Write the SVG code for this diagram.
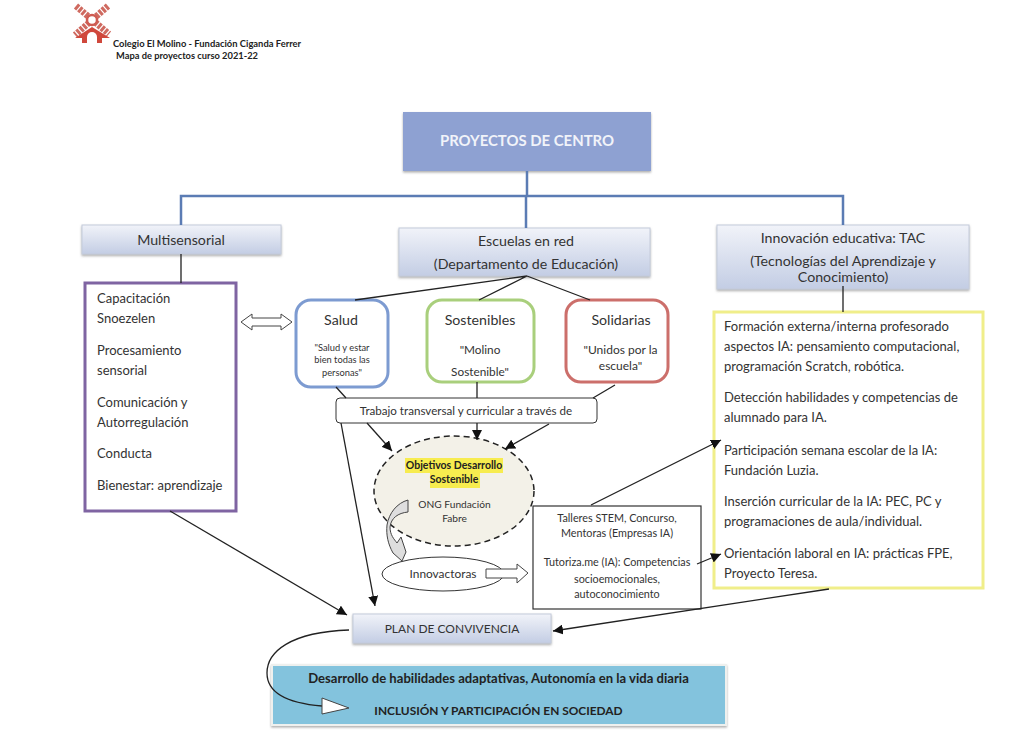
<svg xmlns="http://www.w3.org/2000/svg" width="1036" height="738" viewBox="0 0 1036 738">
<style>
text{font-family:"Lato","Liberation Sans",sans-serif;fill:#333;text-anchor:middle}
.l{text-anchor:start}
.t14{font-size:14.2px}.t13{font-size:13px}.t11{font-size:10.8px}
.b{font-weight:700;fill:#222}
.hdr{fill:url(#g);stroke:#c4cbdb;stroke-width:1;filter:url(#s)}
.blue{fill:none;stroke:#5b7cb4;stroke-width:2.5}
.c{fill:none;stroke:#222;stroke-width:1.3}
.a{marker-end:url(#ah)}
.bl{fill:#fff;stroke:#444;stroke-width:1}
</style>
<defs>
<linearGradient id="g" x1="0" y1="0" x2="0" y2="1"><stop offset="0" stop-color="#f1f3f9"/><stop offset="1" stop-color="#c3cde4"/></linearGradient>
<filter id="s" x="-5%" y="-10%" width="110%" height="130%"><feDropShadow dx="0" dy="1.5" stdDeviation="1" flood-color="#777" flood-opacity=".6"/></filter>
<marker id="ah" markerUnits="userSpaceOnUse" markerWidth="11" markerHeight="10" refX="10" refY="5" orient="auto"><path d="M0 0L10 5L0 10Z" fill="#111"/></marker>
</defs>
<rect width="1036" height="738" fill="#fff"/>

<g id="logo">
<path d="M76 6L109 34M108 6L75 35" stroke="#cf6a60" stroke-width="6.5" stroke-dasharray="3 1.2" fill="none"/>
<circle cx="92" cy="20" r="5" fill="#fff" stroke="#cf5c52" stroke-width="2.5"/>
<path d="M92 27L75 38L82 38V43H102V38L110 38Z" fill="#d0483c"/>
<path d="M87 43V37A5 5 0 0 1 97 37V43Z" fill="#fff"/>
<text class="l b" x="113" y="47" font-size="9.4">Colegio El Molino - Fundación Ciganda Ferrer</text>
<text class="l b" x="116" y="59" font-size="9.3">Mapa de proyectos curso 2021-22</text>
</g>

<g id="proyectos"><rect x="403" y="112" width="248" height="59" fill="#8ea1d2" filter="url(#s)"/><text x="527" y="146" font-size="14.9" font-weight="700" style="fill:#f1f3f9">PROYECTOS DE CENTRO</text></g>
<g id="multisensorial"><rect class="hdr" x="82" y="225" width="199" height="29"/><text class="t14" x="181" y="245">Multisensorial</text></g>
<g id="escuelas"><rect class="hdr" x="399" y="228" width="251" height="48"/><text class="t14" x="526" y="246">Escuelas en red</text><text class="t14" x="526" y="269">(Departamento de Educación)</text></g>
<g id="innovacion"><rect class="hdr" x="717" y="225" width="252" height="64"/><text class="t14" x="843" y="243">Innovación educativa: TAC</text><text class="t14" x="843" y="266">(Tecnologías del Aprendizaje y</text><text class="t14" x="843" y="282">Conocimiento)</text></g>

<g id="multi-list"><rect x="85" y="283" width="151" height="228" fill="#fff" stroke="#7f64a2" stroke-width="3"/>
<g class="t13"><text class="l" x="97" y="303">Capacitación</text><text class="l" x="97" y="323">Snoezelen</text><text class="l" x="97" y="355">Procesamiento</text><text class="l" x="97" y="375">sensorial</text><text class="l" x="97" y="407">Comunicación y</text><text class="l" x="97" y="427">Autorregulación</text><text class="l" x="97" y="458">Conducta</text><text class="l" x="97" y="490">Bienestar: aprendizaje</text></g></g>

<g id="double-arrow"><path class="bl" d="M241 322L252 314V318H281V314L292 322L281 330V326H252V330Z"/></g>

<g id="salud"><rect x="296" y="300" width="92" height="87" rx="15" fill="#fff" stroke="#7d9bd1" stroke-width="3"/><text class="t14" x="341" y="325">Salud</text><g font-size="9.3"><text x="342" y="351">"Salud y estar</text><text x="342" y="363">bien todas las</text><text x="342" y="376">personas"</text></g></g>
<g id="sostenibles"><rect x="427" y="300" width="107" height="82" rx="15" fill="#fff" stroke="#a9cf7c" stroke-width="3"/><text class="t14" x="480" y="325">Sostenibles</text><text font-size="11.8" x="480" y="354">"Molino</text><text font-size="11.8" x="480" y="376">Sostenible"</text></g>
<g id="solidarias"><rect x="566" y="300" width="102" height="82" rx="15" fill="#fff" stroke="#cc6f6b" stroke-width="3"/><text class="t14" x="621" y="325">Solidarias</text><text font-size="12" x="620.5" y="354">"Unidos por la</text><text font-size="12" x="620.5" y="370">escuela"</text></g>
<g id="trabajo"><rect x="336" y="398" width="261" height="25" rx="4" fill="#fff" stroke="#333" stroke-width="1"/><text font-size="11.6" x="466" y="415">Trabajo transversal y curricular a través de</text></g>

<g id="ods"><ellipse cx="454" cy="491" rx="80" ry="55" fill="#f3f1e8" stroke="#222" stroke-width="1.5" stroke-dasharray="6 4"/>
<rect x="405" y="458" width="98" height="15" fill="#f7ec4f"/><rect x="430" y="473" width="50" height="15" fill="#f7ec4f"/>
<text class="b" x="454" y="469" font-size="10.5">Objetivos Desarrollo</text><text class="b" x="454" y="483" font-size="10.5">Sostenible</text><text font-size="10.2" x="454.5" y="508">ONG Fundación</text><text font-size="10.2" x="454.5" y="522">Fabre</text></g>
<g id="innovactoras"><ellipse cx="443" cy="574" rx="61" ry="17" fill="#fff" stroke="#333" stroke-width="1"/><text font-size="11.9" x="443" y="575" dy="3">Innovactoras</text></g>
<g id="curved-arrow"><path d="M408 500V512C398 513 391 518 390 527C390 535 394 539 397 543L401 537L406 552L402 561L393 553C388 544 386 535 387 525C389 513 397 503 408 500Z" fill="#dedede" stroke="#444" stroke-width="1"/></g>
<g id="block-arrow"><path class="bl" d="M486 569H517V564L528 573L517 583V578H486Z"/></g>
<g id="talleres"><rect x="533" y="506" width="168" height="103" fill="#fff" stroke="#333" stroke-width="1.2"/><g class="t11"><text x="617" y="522">Talleres STEM, Concurso,</text><text x="617" y="537">Mentoras (Empresas IA)</text><text x="617" y="566">Tutoriza.me (IA): Competencias</text><text x="617" y="583">socioemocionales,</text><text x="617" y="598">autoconocimiento</text></g></g>

<g id="tac-list"><rect x="714" y="312" width="269" height="276" fill="#fff" stroke="#f0ee8a" stroke-width="3"/>
<g class="t13"><text class="l" x="724" y="331">Formación externa/interna profesorado</text><text class="l" x="724" y="351">aspectos IA: pensamiento computacional,</text><text class="l" x="724" y="371">programación Scratch, robótica.</text><text class="l" x="724" y="402">Detección habilidades y competencias de</text><text class="l" x="724" y="422">alumnado para IA.</text><text class="l" x="724" y="455">Participación semana escolar de la IA:</text><text class="l" x="724" y="475">Fundación Luzia.</text><text class="l" x="724" y="506">Inserción curricular de la IA: PEC, PC y</text><text class="l" x="724" y="526">programaciones de aula/individual.</text><text class="l" x="724" y="558">Orientación laboral en IA: prácticas FPE,</text><text class="l" x="724" y="578">Proyecto Teresa.</text></g></g>

<g id="plan"><rect class="hdr" x="353" y="614" width="198" height="29"/><text font-size="12" x="452" y="633">PLAN DE CONVIVENCIA</text></g>
<g id="resultado"><rect x="272" y="665" width="454" height="60" fill="#83c3dd" stroke="#eef0ee" stroke-width="2" filter="url(#s)"/><text class="b" x="498.5" y="683" font-size="13.1">Desarrollo de habilidades adaptativas, Autonomía en la vida diaria</text><text class="b" x="498.5" y="715" font-size="11.9">INCLUSIÓN Y PARTICIPACIÓN EN SOCIEDAD</text></g>

<g id="connectors">
<path class="blue" d="M527 171V196M181 225V196H843V225M526 196V228"/>
<path class="c" d="M181 254V283M843 286V312"/>
<path class="c" d="M527 276L355 300M527 276L479 300M527 276L590 300"/>
<path class="c" d="M336 387L346 398M477 382V398M615 385L593 398"/>
<path class="c a" d="M367 423L392 451"/>
<path class="c a" d="M477 423V440"/>
<path class="c a" d="M549 424L505 449"/>
<path class="c a" d="M341 423L375 606"/>
<path class="c a" d="M170 511L347 615"/>
<path class="c a" d="M591 505L721 440"/>
<path class="c a" d="M697 564L721 554"/>
<path class="c a" d="M829 589L553 631"/>
<path class="c" d="M349 630C290 632 267 652 267 673C267 692 285 703 322 706"/>
<path d="M322 698L349 708L322 714Z" fill="#fff" stroke="#444" stroke-width="1"/>
</g>
</svg>
